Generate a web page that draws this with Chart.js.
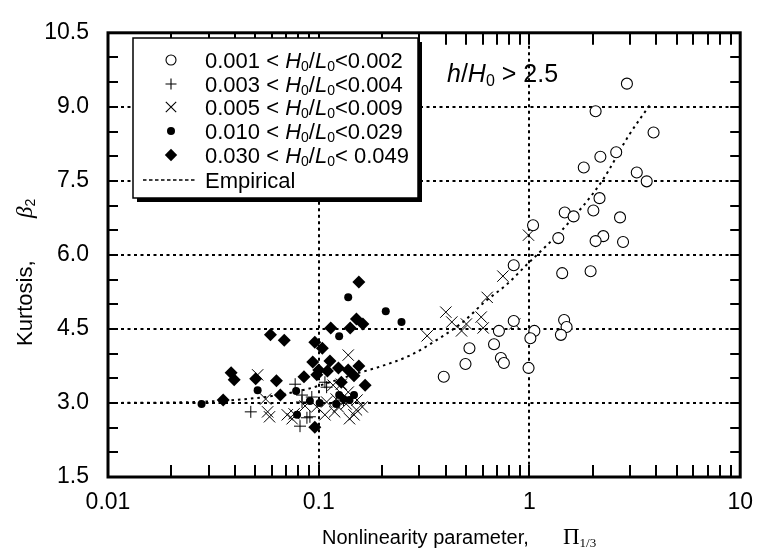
<!DOCTYPE html>
<html><head><meta charset="utf-8">
<script src="https://cdn.jsdelivr.net/npm/chart.js@4.4.1/dist/chart.umd.min.js"></script>
<style>html,body{margin:0;padding:0;background:#fff}#wrap{width:765px;height:557px}</style>
</head><body><div id="wrap"><canvas id="c" width="765" height="557"></canvas></div>
<script>
// ---- data ----
const xTickValues = [0.01, 0.1, 1, 10];
const xTickLabels = ['0.01', '0.1', '1', '10'];
const yTickValues = [1.5, 3.0, 4.5, 6.0, 7.5, 9.0, 10.5];

const circX = [2.90,2.06,3.88,2.58,2.17,1.81,3.23,3.60,2.15,1.47,1.62,2.01,2.69,1.37,2.24,2.06,2.78,1.04,0.842,1.43,1.95,0.716,0.842,1.055,1.01,0.519,0.679,0.497,0.732,0.756,0.392,0.99,1.46,1.50,1.41];
const circY = [9.47,8.91,8.48,8.08,7.99,7.77,7.67,7.49,7.15,6.86,6.78,6.90,6.76,6.34,6.38,6.28,6.26,6.60,5.79,5.63,5.67,4.46,4.66,4.46,4.31,4.11,4.19,3.79,3.91,3.81,3.53,3.71,4.68,4.54,4.38];

const plusX = [0.0476,0.0773,0.0833,0.0833,0.0908,0.0815,0.109,0.0927,0.0879,0.107,0.131];
const plusY = [2.82,3.38,3.16,3.02,2.72,2.53,3.32,3.12,2.70,3.42,3.06];

const crossX = [0.989,0.748,0.630,0.401,0.428,0.502,0.476,0.590,0.603,0.851,0.327,0.0513,0.0560,0.0584,0.0572,0.0709,0.0748,0.0764,0.0861,0.109,0.107,0.121,0.138,0.138,0.140,0.151,0.147,0.161,0.117,0.128,0.0979,0.119,0.135,0.124,0.152];
const crossY = [6.40,5.57,5.14,4.84,4.64,4.60,4.46,4.74,4.52,4.60,4.36,3.57,3.08,2.72,2.82,2.76,2.68,2.78,2.94,3.02,2.76,3.08,3.22,3.97,2.68,2.86,2.76,2.92,3.36,3.38,2.92,2.82,2.98,2.92,3.06];

const dotX = [0.0278,0.0513,0.138,0.125,0.208,0.247,0.0781,0.0908,0.0789,0.101,0.131,0.125,0.121,0.140,0.147];
const dotY = [2.98,3.26,5.14,4.35,4.86,4.64,3.24,3.04,2.76,3.00,3.08,3.16,2.98,3.06,3.16];

const diaX = [0.0384,0.0397,0.0502,0.0352,0.0590,0.0686,0.0630,0.0851,0.0657,0.0958,0.104,0.114,0.141,0.151,0.162,0.0937,0.113,0.124,0.100,0.0979,0.110,0.138,0.155,0.147,0.166,0.0958,0.155,0.128];
const diaY = [3.61,3.47,3.49,3.06,4.38,4.27,3.45,3.53,3.16,4.23,4.11,4.52,4.52,4.70,4.60,3.83,3.85,3.71,3.67,3.57,3.65,3.67,3.75,3.55,3.36,2.51,5.45,3.42];

const curveX = [0.01,0.02,0.03,0.04,0.06,0.088,0.125,0.155,0.19,0.27,0.38,0.49,0.61,0.78,0.97,1.2,1.44,2.22,2.96,3.8];
const curveY = [3.00,3.01,3.03,3.06,3.14,3.28,3.48,3.61,3.72,3.96,4.33,4.66,5.04,5.40,5.80,6.18,6.52,7.51,8.42,9.09];

const seriesNames = ['0.001', '0.003', '0.005', '0.010', '0.030'];
const seriesUpper = ['0.002', '0.004', '0.009', '0.029', ' 0.049'];

const pts = (xs, ys) => xs.map((x, i) => ({x: x, y: ys[i]}));
const SANS = '"Liberation Sans", Arial, Helvetica, sans-serif';
const SERIF = '"Liberation Serif", "Times New Roman", serif';

function drawRich(ctx, x, y, segs, size, align) {
  const fontOf = s => (s.it ? 'italic ' : '') + Math.round(s.sub ? size * 0.62 : size * (s.scale || 1)) + 'px ' + (s.serif ? SERIF : SANS);
  let w = 0;
  segs.forEach(s => { ctx.font = fontOf(s); w += ctx.measureText(s.t).width; });
  let cx = align === 'center' ? x - w / 2 : x;
  ctx.textBaseline = 'alphabetic';
  ctx.textAlign = 'left';
  segs.forEach(s => {
    ctx.font = fontOf(s);
    ctx.fillText(s.t, cx, y + (s.sub ? size * 0.15 : 0));
    cx += ctx.measureText(s.t).width;
  });
}

function symbol(ctx, kind, x, y) {
  ctx.save();
  ctx.strokeStyle = '#000'; ctx.fillStyle = '#000'; ctx.lineWidth = 1.1;
  ctx.beginPath();
  if (kind === 0) { ctx.arc(x, y, 5, 0, Math.PI * 2); ctx.fillStyle = '#fff'; ctx.fill(); ctx.stroke(); }
  else if (kind === 1) { ctx.moveTo(x - 5.5, y); ctx.lineTo(x + 5.5, y); ctx.moveTo(x, y - 5.5); ctx.lineTo(x, y + 5.5); ctx.stroke(); }
  else if (kind === 2) { const r = 5.2; ctx.moveTo(x - r, y - r); ctx.lineTo(x + r, y + r); ctx.moveTo(x - r, y + r); ctx.lineTo(x + r, y - r); ctx.stroke(); }
  else if (kind === 3) { ctx.arc(x, y, 4, 0, Math.PI * 2); ctx.fill(); }
  else if (kind === 4) { const r = 6.2; ctx.moveTo(x, y - r); ctx.lineTo(x + r, y); ctx.lineTo(x, y + r); ctx.lineTo(x - r, y); ctx.closePath(); ctx.fill(); }
  ctx.restore();
}

const decor = {
  id: 'decor',
  beforeDatasetsDraw(chart) {
    const {ctx, chartArea: a, scales: {x, y}} = chart;
    ctx.save();
    ctx.strokeStyle = '#000'; ctx.lineWidth = 2; ctx.setLineDash([3, 3.5]);
    [0.1, 1].forEach(v => { const px = Math.round(x.getPixelForValue(v)); ctx.beginPath(); ctx.moveTo(px, a.top); ctx.lineTo(px, a.bottom); ctx.stroke(); });
    [3.0, 4.5, 6.0, 7.5, 9.0].forEach(v => { const py = Math.round(y.getPixelForValue(v)); ctx.beginPath(); ctx.moveTo(a.left, py); ctx.lineTo(a.right, py); ctx.stroke(); });
    ctx.restore();
  },
  afterDraw(chart) {
    const {ctx, chartArea: a, scales: {x, y}} = chart;
    ctx.save();
    ctx.strokeStyle = '#000'; ctx.fillStyle = '#000';
    ctx.lineWidth = 2;
    for (const d of [0.01, 0.1, 1]) for (let k = 1; k <= 9; k++) {
      const v = k * d; if (v <= 0.01 || v >= 10) continue;
      const px = Math.round(x.getPixelForValue(v));
      ctx.beginPath(); ctx.moveTo(px, a.bottom); ctx.lineTo(px, a.bottom - 12);
      ctx.moveTo(px, a.top); ctx.lineTo(px, a.top + 12); ctx.stroke();
    }
    for (let v = 2.0; v < 10.5; v += 0.5) {
      const py = Math.round(y.getPixelForValue(v));
      ctx.beginPath(); ctx.moveTo(a.left, py); ctx.lineTo(a.left + 10, py);
      ctx.moveTo(a.right, py); ctx.lineTo(a.right - 10, py); ctx.stroke();
    }
    ctx.lineWidth = 3;
    ctx.strokeRect(a.left, a.top, a.right - a.left, a.bottom - a.top);

    // legend box with shadow
    const L = 133, T = 38, R = 418, B = 198;
    ctx.fillRect(L + 4, T + 4, R - L, B - T);
    ctx.fillStyle = '#fff'; ctx.fillRect(L, T, R - L, B - T);
    ctx.lineWidth = 1.5; ctx.strokeRect(L, T, R - L, B - T);
    ctx.fillStyle = '#000';
    const rows = [60, 84, 107, 131, 155];
    rows.forEach((ry, i) => {
      symbol(ctx, i, 171, ry);
      drawRich(ctx, 205, ry + 8, [
        {t: seriesNames[i]}, {t: ' < '}, {t: 'H', it: 1}, {t: '0', sub: 1}, {t: '/'},
        {t: 'L', it: 1}, {t: '0', sub: 1}, {t: '<' + seriesUpper[i]}
      ], 22);
    });
    ctx.lineWidth = 1.6; ctx.setLineDash([3.5, 2.5]);
    ctx.beginPath(); ctx.moveTo(143, 180); ctx.lineTo(196, 180); ctx.stroke();
    ctx.setLineDash([]);
    drawRich(ctx, 205, 188, [{t: 'Empirical'}], 22);

    // annotation
    drawRich(ctx, 447, 82, [{t: 'h', it: 1}, {t: '/'}, {t: 'H', it: 1}, {t: '0', sub: 1}, {t: ' > 2.5'}], 25);

    // axis titles
    drawRich(ctx, 322, 544, [{t: 'Nonlinearity parameter,'}], 20);
    drawRich(ctx, 563, 544, [{t: '\u03A0', serif: 1, scale: 1.1}, {t: '1/3', serif: 1, sub: 1}], 21);
    ctx.save();
    ctx.translate(32, 346); ctx.rotate(-Math.PI / 2);
    drawRich(ctx, 0, 0, [{t: 'Kurtosis,'}], 22);
    drawRich(ctx, 128, 0, [{t: '\u03B2', it: 1, serif: 1, scale: 1.05}, {t: '2', sub: 1}], 22);
    ctx.restore();
    ctx.restore();
  }
};

new Chart(document.getElementById('c'), {
  type: 'scatter',
  data: {
    datasets: [
      {data: pts(circX, circY), pointStyle: 'circle', pointRadius: 5.5, backgroundColor: '#fff', borderColor: '#000', borderWidth: 1.1},
      {data: pts(plusX, plusY), pointStyle: 'cross', pointRadius: 6, borderColor: '#000', borderWidth: 1},
      {data: pts(crossX, crossY), pointStyle: 'crossRot', pointRadius: 8, borderColor: '#000', borderWidth: 1},
      {data: pts(dotX, dotY), pointStyle: 'circle', pointRadius: 4, backgroundColor: '#000', borderColor: '#000', borderWidth: 0},
      {data: pts(diaX, diaY), pointStyle: 'rectRot', pointRadius: 6.5, backgroundColor: '#000', borderColor: '#000', borderWidth: 0},
      {type: 'line', data: pts(curveX, curveY), showLine: true, pointRadius: 0, borderColor: '#000', borderWidth: 2, borderDash: [2.5, 4], cubicInterpolationMode: 'monotone', fill: false}
    ]
  },
  options: {
    responsive: false, animation: false, devicePixelRatio: 1,
    layout: {padding: {top: 22, right: 15, left: 0, bottom: 0}},
    plugins: {legend: {display: false}, tooltip: {enabled: false}},
    scales: {
      x: {
        type: 'logarithmic', min: 0.01, max: 10,
        afterBuildTicks: s => { s.ticks = xTickValues.map(v => ({value: v})); },
        afterFit: s => { s.height = 80; },
        grid: {display: false, drawTicks: false}, border: {display: false},
        ticks: {padding: 12, color: '#000', font: {family: SANS, size: 23}, maxRotation: 0, autoSkip: false,
          callback: v => { const i = xTickValues.indexOf(v); return i >= 0 ? xTickLabels[i] : ''; }}
      },
      y: {
        min: 1.5, max: 10.5,
        afterBuildTicks: s => { s.ticks = yTickValues.map(v => ({value: v})); },
        afterFit: s => { s.width = 108; },
        grid: {display: false, drawTicks: false}, border: {display: false},
        ticks: {padding: 19, color: '#000', font: {family: SANS, size: 23}, callback: v => Number(v).toFixed(1)}
      }
    }
  },
  plugins: [decor]
});
</script></body></html>
